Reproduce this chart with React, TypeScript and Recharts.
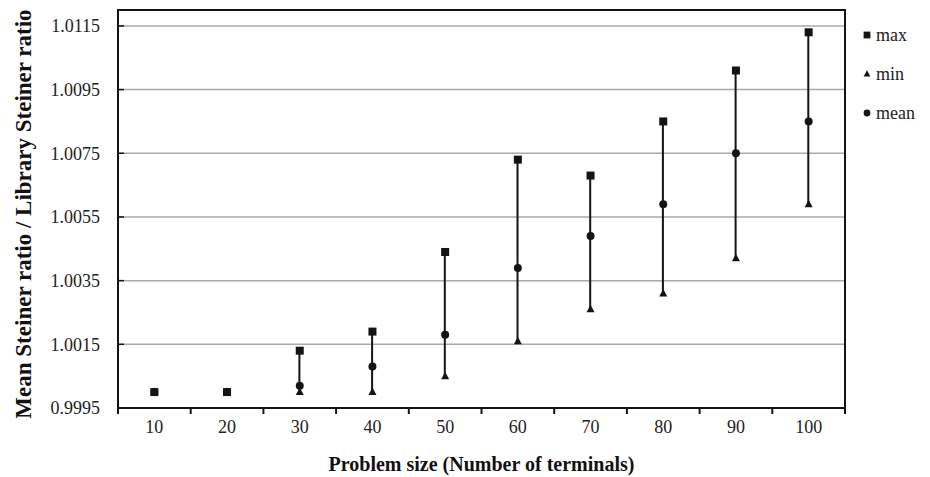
import { ComposedChart, Bar, Line, XAxis, YAxis, CartesianGrid, Label } from "recharts";

const problemSizes = ["10", "20", "30", "40", "50", "60", "70", "80", "90", "100"];
const maxRatio = [1.0, 1.0, 1.0013, 1.0019, 1.0044, 1.0073, 1.0068, 1.0085, 1.0101, 1.0113];
const minRatio = [1.0, 1.0, 1.0, 1.0, 1.0005, 1.0016, 1.0026, 1.0031, 1.0042, 1.0059];
const meanRatio = [1.0, 1.0, 1.0002, 1.0008, 1.0018, 1.0039, 1.0049, 1.0059, 1.0075, 1.0085];
const yTicks = [0.9995, 1.0015, 1.0035, 1.0055, 1.0075, 1.0095, 1.0115];
const yDomain = [0.9995, 1.012];
const seriesNames = ["max", "min", "mean"];

const data = problemSizes.map((size, i) => ({
  size,
  max: maxRatio[i],
  min: minRatio[i],
  mean: meanRatio[i],
  range: [minRatio[i], maxRatio[i]],
}));

const FONT = '"Liberation Serif", "Times New Roman", Times, serif';
const INK = "#141414";

// layout
const W = 930;
const H = 477;
const MARGIN = { top: 10, right: 85, bottom: 0, left: 0 };
const Y_AXIS_W = 118;
const X_AXIS_H = 69;
const plotLeft = MARGIN.left + Y_AXIS_W;
const plotTop = MARGIN.top;
const plotRight = W - MARGIN.right;
const plotBottom = H - MARGIN.bottom - X_AXIS_H;

function Square({ cx, cy }: any) {
  if (cx == null || cy == null) return null;
  return <rect x={cx - 4} y={cy - 4} width={8} height={8} fill={INK} />;
}

function Triangle({ cx, cy }: any) {
  if (cx == null || cy == null) return null;
  return <path d={`M${cx},${cy - 4.5}L${cx + 4},${cy + 3}L${cx - 4},${cy + 3}Z`} fill={INK} />;
}

function Circle({ cx, cy }: any) {
  if (cx == null || cy == null) return null;
  return <circle cx={cx} cy={cy} r={4} fill={INK} />;
}

// y ticks point into the plot
function YTick({ x, y, payload }: any) {
  return (
    <g>
      <line x1={x + 18} x2={x + 24} y1={y} y2={y} stroke={INK} strokeWidth={1.5} />
      <text x={x} y={y} dy="0.35em" textAnchor="end" fontFamily={FONT} fontSize={18} fill="#222">
        {Number(payload.value).toFixed(4)}
      </text>
    </g>
  );
}

// x tick marks sit on the band edges, labels in the middle
function XTick({ x, y, payload, index, visibleTicksCount, width }: any) {
  const half = payload.offset || width / visibleTicksCount / 2;
  const axisY = y - 12;
  const edges = [x - half];
  if (index === visibleTicksCount - 1) edges.push(x + half);
  return (
    <g>
      {edges.map((ex) => (
        <line key={ex} x1={ex} x2={ex} y1={axisY} y2={axisY + 6} stroke={INK} strokeWidth={2} />
      ))}
      <text x={x} y={y} dy="0.71em" textAnchor="middle" fontFamily={FONT} fontSize={18} fill="#222">
        {payload.value}
      </text>
    </g>
  );
}

function XTitle({ viewBox }: any) {
  return (
    <text
      x={viewBox.x + viewBox.width / 2}
      y={viewBox.y + 63}
      textAnchor="middle"
      fontFamily={FONT}
      fontWeight="bold"
      fontSize={20}
      fill="#111"
    >
      Problem size (Number of terminals)
    </text>
  );
}

function YTitle({ viewBox }: any) {
  const x = viewBox.x + 31;
  const y = viewBox.y + viewBox.height / 2 + 5;
  return (
    <text
      x={x}
      y={y}
      transform={`rotate(-90, ${x}, ${y})`}
      textAnchor="middle"
      fontFamily={FONT}
      fontWeight="bold"
      fontSize={23}
      fill="#111"
    >
      Mean Steiner ratio / Library Steiner ratio
    </text>
  );
}

// box round the plot area
function PlotFrame() {
  return (
    <div
      style={{
        position: "absolute",
        boxSizing: "border-box",
        left: plotLeft - 1,
        top: plotTop - 1,
        width: plotRight - plotLeft + 2,
        height: plotBottom - plotTop + 2,
        border: `2px solid ${INK}`,
        pointerEvents: "none",
      }}
    />
  );
}

function LegendBox() {
  const icons = [Square, Triangle, Circle];
  return (
    <svg width={72} height={110} style={{ position: "absolute", left: 858, top: 20 }}>
      {seriesNames.map((name, i) => {
        const Icon = icons[i];
        const cy = 15 + i * 39;
        return (
          <g key={name}>
            <g transform={`scale(0.85) translate(${9 / 0.85 - 9}, ${cy / 0.85 - cy})`}>
              <Icon cx={9} cy={cy} />
            </g>
            <text x={18} y={cy} dy="0.32em" fontFamily={FONT} fontSize={18} fill="#222">
              {name}
            </text>
          </g>
        );
      })}
    </svg>
  );
}

export default function App() {
  return (
    <div style={{ position: "absolute", left: 0, top: 0, width: W, height: H, background: "#fff" }}>
      <ComposedChart width={W} height={H} data={data} margin={MARGIN}>
        <CartesianGrid vertical={false} stroke="#a9a9a9" strokeWidth={1.5} />

        <XAxis
          dataKey="size"
          height={X_AXIS_H}
          interval={0}
          axisLine={false}
          tickLine={false}
          tickSize={6}
          tickMargin={6}
          tick={<XTick />}
        >
          <Label content={XTitle} />
        </XAxis>

        <YAxis
          type="number"
          domain={yDomain}
          allowDataOverflow
          ticks={yTicks}
          width={Y_AXIS_W}
          tickSize={0}
          tickMargin={18}
          tick={<YTick />}
          axisLine={false}
          tickLine={false}
        >
          <Label content={YTitle} />
        </YAxis>

        <Bar dataKey="range" barSize={2} fill={INK} isAnimationActive={false} />
        <Line
          dataKey="min"
          stroke="none"
          dot={(p: any) => <Triangle key={`min-${p.index}`} {...p} />}
          activeDot={false}
          isAnimationActive={false}
        />
        <Line
          dataKey="mean"
          stroke="none"
          dot={(p: any) => <Circle key={`mean-${p.index}`} {...p} />}
          activeDot={false}
          isAnimationActive={false}
        />
        <Line
          dataKey="max"
          stroke="none"
          dot={(p: any) => <Square key={`max-${p.index}`} {...p} />}
          activeDot={false}
          isAnimationActive={false}
        />
      </ComposedChart>
      <PlotFrame />
      <LegendBox />
    </div>
  );
}
